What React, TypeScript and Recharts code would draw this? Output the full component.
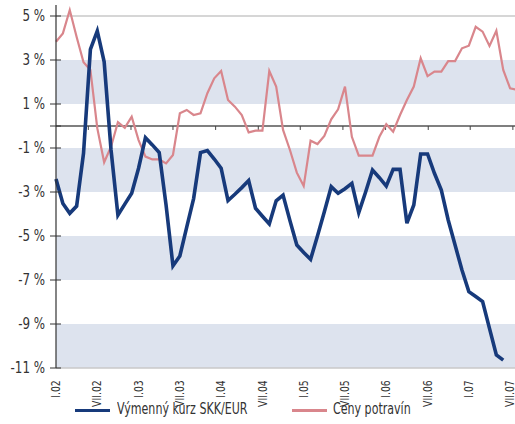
import React from "react";
import {
  LineChart,
  Line,
  XAxis,
  YAxis,
  ReferenceArea,
  ReferenceLine,
  Legend,
} from "recharts";

// mesačné hodnoty od I.02, medziročná zmena v %
const kurz = [
  -2.41, -3.52, -3.97, -3.64, -1.24, 3.48, 4.32, 2.92, -1.09, -4.05, -3.55, -3.06,
  -1.92, -0.53, -0.86, -1.21, -3.6, -6.36, -5.91, -4.6, -3.3, -1.21, -1.12, -1.5,
  -1.92, -3.39, -3.1, -2.8, -2.48, -3.74, -4.1, -4.45, -3.4, -3.14, -4.3, -5.41,
  -5.75, -6.06, -5.0, -3.9, -2.76, -3.06, -2.85, -2.61, -3.94, -3.0, -2.0, -2.35,
  -2.73, -1.97, -1.97, -4.42, -3.59, -1.27, -1.27, -2.15, -2.91, -4.27, -5.41, -6.55,
  -7.53, -7.75, -7.98, -9.2, -10.41, -10.64,
];

const potraviny = [
  3.83, 4.21, 5.27, 4.05, 2.9, 2.55, -0.1, -1.65, -0.94, 0.17, -0.08, 0.42,
  -0.64, -1.39, -1.52, -1.52, -1.7, -1.32, 0.58, 0.73, 0.5, 0.58, 1.49, 2.17,
  2.5, 1.18, 0.88, 0.5, -0.29, -0.21, -0.21, 2.5, 1.79, -0.18, -1.09, -2.12,
  -2.73, -0.67, -0.82, -0.45, 0.3, 0.76, 1.79, -0.49, -1.35, -1.35, -1.35, -0.49,
  0.08, -0.26, 0.5, 1.18, 1.79, 3.08, 2.27, 2.47, 2.47, 2.95, 2.95, 3.53,
  3.65, 4.51, 4.29, 3.64, 4.33, 2.55, 1.71, 1.64,
];

const xTicks = [0, 6, 12, 18, 24, 30, 36, 42, 48, 54, 60, 66];
const xLabels = [
  "I.02", "VII.02", "I.03", "VII.03", "I.04", "VII.04",
  "I.05", "VII.05", "I.06", "VII.06", "I.07", "VII.07",
];
const zeroTicks = [4.7, 10.9, 17.0, 23.2, 29.4, 35.5, 41.7, 47.9, 54.1, 60.2, 66.4];
const yTicks = [5, 3, 1, 0, -1, -3, -5, -7, -9, -11];
const bands = [
  [1, 3],
  [-1, -3],
  [-5, -7],
  [-9, -11],
];

const BLUE = "#173a7b";
const RED = "#d9868c";
const BAND = "#dde3ee";
const FONT =
  '"Liberation Sans Narrow", "DejaVu Sans Condensed", "Roboto Condensed", "Liberation Sans", sans-serif';

const data = potraviny.map((p, i) => ({
  i,
  potraviny: p,
  kurz: i < kurz.length ? kurz[i] : null,
}));

const YTick = ({ x, y, payload }: any) => {
  const v = payload.value;
  return (
    <g>
      <line x1={x + 4} x2={x + 15} y1={y} y2={y} stroke="#333" strokeWidth={1} />
      {v !== 0 && (
        <text
          transform={`translate(${x - 1},${y}) scale(0.88,1)`}
          x={0}
          y={0}
          dy="0.35em"
          textAnchor="end"
          fill="#333"
          fontSize={15}
          fontFamily={FONT}
        >
          {v} %
        </text>
      )}
    </g>
  );
};

const XTick = ({ x, y, payload }: any) => {
  const idx = xTicks.indexOf(payload.value);
  return (
    <g transform={`translate(${x},${y})`}>
      <text
        transform="rotate(-90) scale(0.86,1)"
        x={-5}
        y={0}
        dy="0.35em"
        textAnchor="end"
        fill="#333"
        fontSize={12}
        fontFamily={FONT}
      >
        {xLabels[idx]}
      </text>
    </g>
  );
};

const legendText: React.CSSProperties = {
  position: "absolute",
  top: 2,
  lineHeight: "18px",
  whiteSpace: "nowrap",
  transform: "scaleX(0.82)",
  transformOrigin: "left center",
};

const LegendBox = () => (
  <div
    style={{
      position: "relative",
      height: 26,
      fontFamily: FONT,
      fontSize: 15,
      color: "#333",
    }}
  >
    <div style={{ position: "absolute", left: 75, top: 11, width: 35, height: 3, background: BLUE }} />
    <span style={{ ...legendText, left: 117 }}>Výmenný kurz SKK/EUR</span>
    <div style={{ position: "absolute", left: 292, top: 11, width: 35, height: 3, background: RED }} />
    <span style={{ ...legendText, left: 333 }}>Ceny potravín</span>
  </div>
);

export default function App() {
  return (
    <div
      style={{
        position: "absolute",
        left: 0,
        top: 0,
        width: 515,
        height: 424,
        overflow: "hidden",
        background: "#fff",
      }}
    >
      <LineChart
        width={517}
        height={424}
        data={data}
        margin={{ top: 5, right: 0, left: 0, bottom: 0 }}
      >
        {bands.map(([a, b], k) => (
          <ReferenceArea key={k} y1={a} y2={b} fill={BAND} fillOpacity={1} stroke="none" />
        ))}
        <ReferenceLine y={5} stroke="#c9c9c9" strokeWidth={1.5} />
        <ReferenceLine y={-11} stroke="#c9c9c9" strokeWidth={1.5} />
        <ReferenceLine y={0} stroke="#555" strokeWidth={1.5} />
        {zeroTicks.map((t) => (
          <ReferenceLine
            key={t}
            segment={[
              { x: t, y: 0 },
              { x: t, y: -0.18 },
            ]}
            stroke="#444"
            strokeWidth={1}
          />
        ))}
        <XAxis
          dataKey="i"
          type="number"
          domain={[0, 67]}
          ticks={xTicks}
          interval={0}
          axisLine={false}
          tickLine={false}
          height={30}
          tick={<XTick />}
        />
        <YAxis
          domain={[-11, 5.5]}
          ticks={yTicks}
          interval={0}
          width={56}
          axisLine={{ stroke: "#333", strokeWidth: 1.2 }}
          tickLine={false}
          tickSize={6}
          tickMargin={4}
          tick={<YTick />}
        />
        <Legend verticalAlign="bottom" height={26} content={<LegendBox />} />
        <Line
          type="linear"
          dataKey="potraviny"
          stroke={RED}
          strokeWidth={2.2}
          dot={false}
          isAnimationActive={false}
        />
        <Line
          type="linear"
          dataKey="kurz"
          stroke={BLUE}
          strokeWidth={3.6}
          dot={false}
          isAnimationActive={false}
        />
      </LineChart>
    </div>
  );
}
